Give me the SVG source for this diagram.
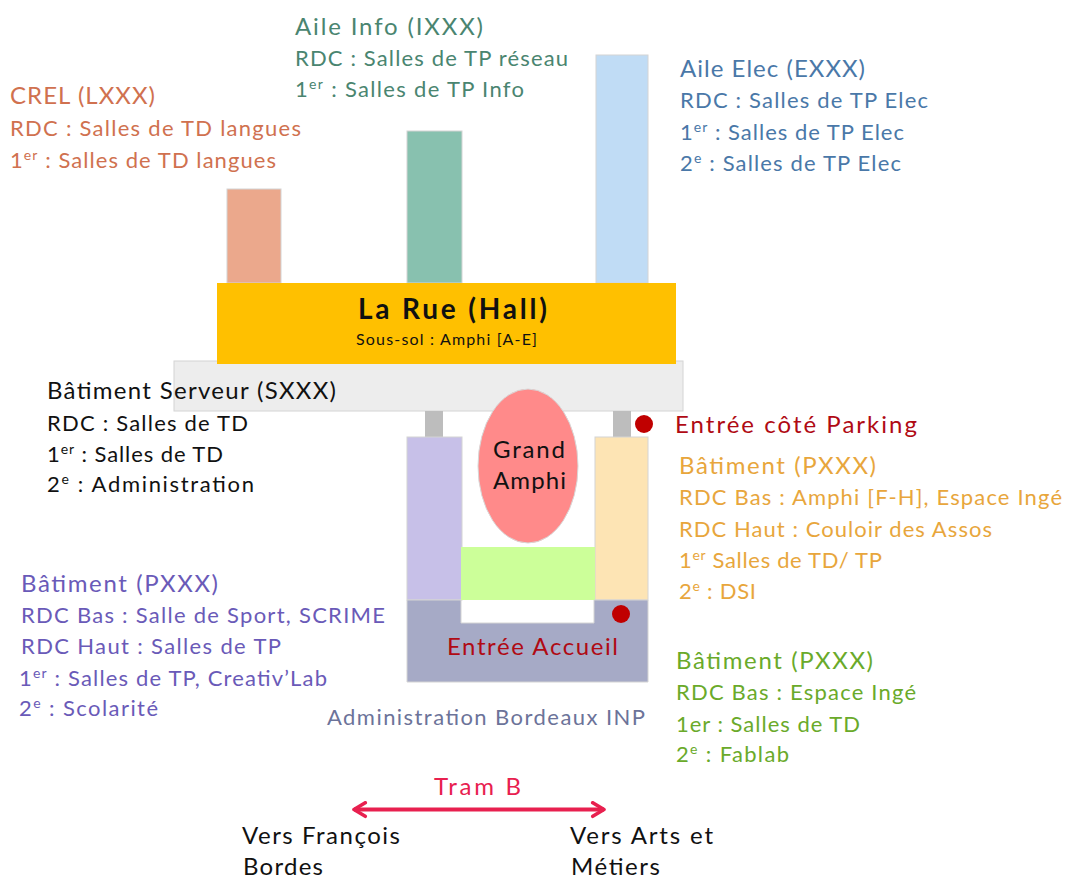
<svg xmlns="http://www.w3.org/2000/svg" width="1067" height="880" viewBox="0 0 1067 880">
<style>
text{font-family:"Lato","Open Sans","Liberation Sans",sans-serif;font-size:22px}
.t{font-size:24px}
.b{stroke:#d4d4d4;stroke-width:1}
.s{font-size:14px}
.crel{fill:#d0714f}.info{fill:#4a8570}.elec{fill:#4a78a8}.or{fill:#e8a63c}.gr{fill:#6aaa2a}.pu{fill:#6a5ab8}.ad{fill:#6c7399}.re{fill:#b00a14}.bk{fill:#111}
.tr{fill:#e8204f}
</style>
<defs>
<marker id="ah" viewBox="0 0 12 12" refX="10.5" refY="6" markerWidth="18" markerHeight="18" markerUnits="userSpaceOnUse" orient="auto-start-reverse"><path d="M3 1.5 L10.5 6 L3 10.5" fill="none" stroke="#e8204f" stroke-width="2.4" stroke-linecap="round" stroke-linejoin="round"/></marker>
</defs>
<rect width="1067" height="880" fill="#fff"/>
<g id="crel"><rect class="b" x="227" y="189" width="54" height="94" fill="#eba88c"/>
<text class="crel t" x="10" y="103.5" textLength="145">CREL (LXXX)</text>
<text class="crel" x="10" y="135.5" textLength="291">RDC : Salles de TD langues</text>
<text class="crel" x="10" y="167.5" textLength="266">1<tspan class="s" dy="-8">er</tspan><tspan dy="8"> : Salles de TD langues</tspan></text></g>
<g id="aile-info"><rect class="b" x="407" y="131" width="55" height="152" fill="#88c1af"/>
<text class="info t" x="295" y="34.5" textLength="188">Aile Info (IXXX)</text>
<text class="info" x="295" y="65.5" textLength="273">RDC : Salles de TP réseau</text>
<text class="info" x="295" y="96.5" textLength="229">1<tspan class="s" dy="-8">er</tspan><tspan dy="8"> : Salles de TP Info</tspan></text></g>
<g id="aile-elec"><rect class="b" x="596" y="55" width="52" height="228" fill="#c0dcf5"/>
<text class="elec t" x="680" y="76.5" textLength="185">Aile Elec (EXXX)</text>
<text class="elec" x="680" y="107.5" textLength="248">RDC : Salles de TP Elec</text>
<text class="elec" x="680" y="139.5" textLength="224">1<tspan class="s" dy="-8">er</tspan><tspan dy="8"> : Salles de TP Elec</tspan></text>
<text class="elec" x="680" y="170.5" textLength="221">2<tspan class="s" dy="-8">e</tspan><tspan dy="8"> : Salles de TP Elec</tspan></text></g>
<g id="serveur"><rect class="b" x="174" y="361" width="509" height="50" fill="#ededed"/>
<rect x="425" y="411" width="18" height="26" fill="#bdbdbd"/><rect x="613" y="411" width="18" height="26" fill="#bdbdbd"/>
<text class="bk t" x="47" y="398.5" textLength="289">Bâtiment Serveur (SXXX)</text>
<text class="bk" x="47" y="430.5" textLength="201">RDC : Salles de TD</text>
<text class="bk" x="47" y="461.5" textLength="176">1<tspan class="s" dy="-8">er</tspan><tspan dy="8"> : Salles de TD</tspan></text>
<text class="bk" x="47" y="491.5" textLength="207">2<tspan class="s" dy="-8">e</tspan><tspan dy="8"> : Administration</tspan></text></g>
<g id="la-rue"><rect x="217" y="283" width="459" height="81" fill="#ffc000"/>
<text class="bk" x="358" y="318.5" textLength="189" style="font-size:28px;font-weight:700">La Rue (Hall)</text>
<text class="bk" x="356" y="344.5" textLength="181" style="font-size:16px">Sous-sol : Amphi [A-E]</text></g>
<g id="batiment-violet"><rect class="b" x="407" y="437" width="55" height="163" fill="#c7c0e8"/>
<text class="pu t" x="21" y="591.5" textLength="197">Bâtiment (PXXX)</text>
<text class="pu" x="21" y="622.5" textLength="364">RDC Bas : Salle de Sport, SCRIME</text>
<text class="pu" x="21" y="653.5" textLength="260">RDC Haut : Salles de TP</text>
<text class="pu" x="19" y="685.5" textLength="308">1<tspan class="s" dy="-8">er</tspan><tspan dy="8"> : Salles de TP, Creativ’Lab</tspan></text>
<text class="pu" x="19" y="715.5" textLength="139">2<tspan class="s" dy="-8">e</tspan><tspan dy="8"> : Scolarité</tspan></text></g>
<g id="batiment-orange"><rect class="b" x="595" y="437" width="53" height="163" fill="#fde4b4"/>
<text class="or t" x="679" y="473.5" textLength="197">Bâtiment (PXXX)</text>
<text class="or" x="679" y="504.5" textLength="383">RDC Bas : Amphi [F-H], Espace Ingé</text>
<text class="or" x="679" y="536.5" textLength="313">RDC Haut : Couloir des Assos</text>
<text class="or" x="679" y="567.5" textLength="203">1<tspan class="s" dy="-8">er</tspan><tspan dy="8"> Salles de TD/ TP</tspan></text>
<text class="or" x="679" y="598.5" textLength="77">2<tspan class="s" dy="-8">e</tspan><tspan dy="8"> : DSI</tspan></text></g>
<g id="batiment-vert"><rect x="461" y="547" width="134" height="53" fill="#ccff99"/>
<text class="gr t" x="676" y="668.5" textLength="197">Bâtiment (PXXX)</text>
<text class="gr" x="676" y="699.5" textLength="240">RDC Bas : Espace Ingé</text>
<text class="gr" x="676" y="731.5" textLength="184">1er : Salles de TD</text>
<text class="gr" x="676" y="761.5" textLength="113">2<tspan class="s" dy="-8">e</tspan><tspan dy="8"> : Fablab</tspan></text></g>
<g id="grand-amphi"><ellipse cx="528" cy="466" rx="50" ry="77" fill="#ff8a8a" stroke="#d8d8d8"/>
<text class="bk t" x="493" y="457.5" textLength="72">Grand</text>
<text class="bk t" x="493" y="488.5" textLength="73">Amphi</text></g>
<g id="accueil"><path class="b" d="M407 600H461V623H594V600H648V682H407Z" fill="#a6aac6"/>
<text class="re t" x="447" y="654.5" textLength="171">Entrée Accueil</text>
<text class="ad" x="327" y="724.5" textLength="318">Administration Bordeaux INP</text></g>
<g id="entree-accueil"><circle cx="621" cy="614" r="9" fill="#c00000"/></g>
<g id="entree-parking"><circle cx="644" cy="424" r="9" fill="#c00000"/>
<text class="re t" x="675" y="432.5" textLength="242">Entrée côté Parking</text></g>
<g id="connectors"><line x1="354" y1="809.5" x2="604" y2="809.5" stroke="#e8204f" stroke-width="4" marker-start="url(#ah)" marker-end="url(#ah)"/></g>
<g id="tram"><text class="tr t" x="434" y="794.5" textLength="87">Tram B</text>
<text class="bk t" x="242" y="843.5" textLength="158">Vers François</text>
<text class="bk t" x="243" y="875" textLength="80">Bordes</text>
<text class="bk t" x="570" y="843.5" textLength="143">Vers Arts et</text>
<text class="bk t" x="571" y="875" textLength="89">Métiers</text></g>
</svg>
